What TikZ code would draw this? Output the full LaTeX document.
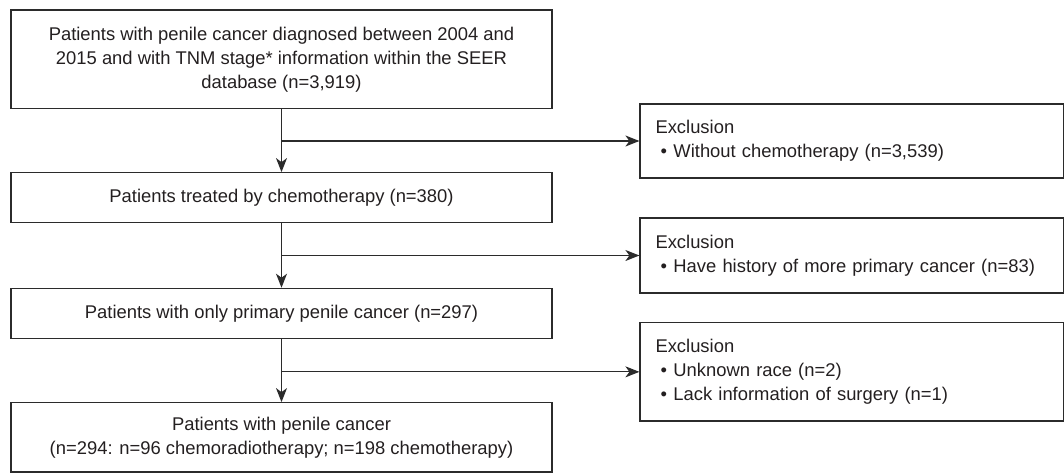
\documentclass[tikz,border=0pt]{standalone}
\usepackage{fontspec}
\setmainfont{Liberation Sans}
\usetikzlibrary{arrows.meta}
\definecolor{linec}{HTML}{2B2B2B}
\definecolor{textc}{HTML}{231F20}
\begin{document}
\begin{tikzpicture}[x=1pt,y=-1pt,
  every node/.style={font=\fontsize{18.4}{24}\selectfont, text=textc},
  mainbox/.style={draw=linec, line width=1.2pt, minimum width=541pt, align=center, inner sep=0pt},
  exbox/.style={draw=linec, line width=1.2pt, text width=392.5pt, inner xsep=15.5pt, inner ysep=0pt, align=left},
  arr/.style={draw=linec, line width=1.2pt, -{Stealth[length=14pt,width=11pt,inset=4pt]}}
]
\useasboundingbox (0,0) rectangle (1064,473);
\node[mainbox, minimum height=98.7pt] (b1) at (281.5,59.35)
  {Patients with penile cancer diagnosed between 2004 and\\2015 and with TNM stage* information within the SEER\\database (n=3,919)};
\node[mainbox, minimum height=50pt] (b2) at (281.5,197.7) {Patients treated by chemotherapy (n=380)};
\node[mainbox, minimum height=50pt] (b3) at (281.5,313.3) {Patients with only primary penile cancer (n=297)};
\node[mainbox, minimum height=69.3pt] (b4) at (281.5,437.35)
  {Patients with penile cancer\\(n=294: n=96 chemoradiotherapy; n=198 chemotherapy)};
\node[exbox, minimum height=74pt] (r1) at (851.75,141)
  {Exclusion\\\hspace*{5pt}•\hspace{6.5pt}Without chemotherapy (n=3,539)};
\node[exbox, minimum height=75pt] (r2) at (851.75,255.5)
  {Exclusion\\\hspace*{5pt}•\hspace{6.5pt}Have history of more primary cancer (n=83)};
\node[exbox, minimum height=98.3pt] (r3) at (851.75,371.85)
  {Exclusion\\\hspace*{5pt}•\hspace{6.5pt}Unknown race (n=2)\\\hspace*{5pt}•\hspace{6.5pt}Lack information of surgery (n=1)};
\draw[arr] (b1.south) -- (b2.north);
\draw[arr] (b2.south) -- (b3.north);
\draw[arr] (b3.south) -- (b4.north);
\draw[arr] (b1.south |- r1.west) -- (r1.west);
\draw[arr] (b2.south |- r2.west) -- (r2.west);
\draw[arr] (b3.south |- r3.west) -- (r3.west);
\end{tikzpicture}
\end{document}
